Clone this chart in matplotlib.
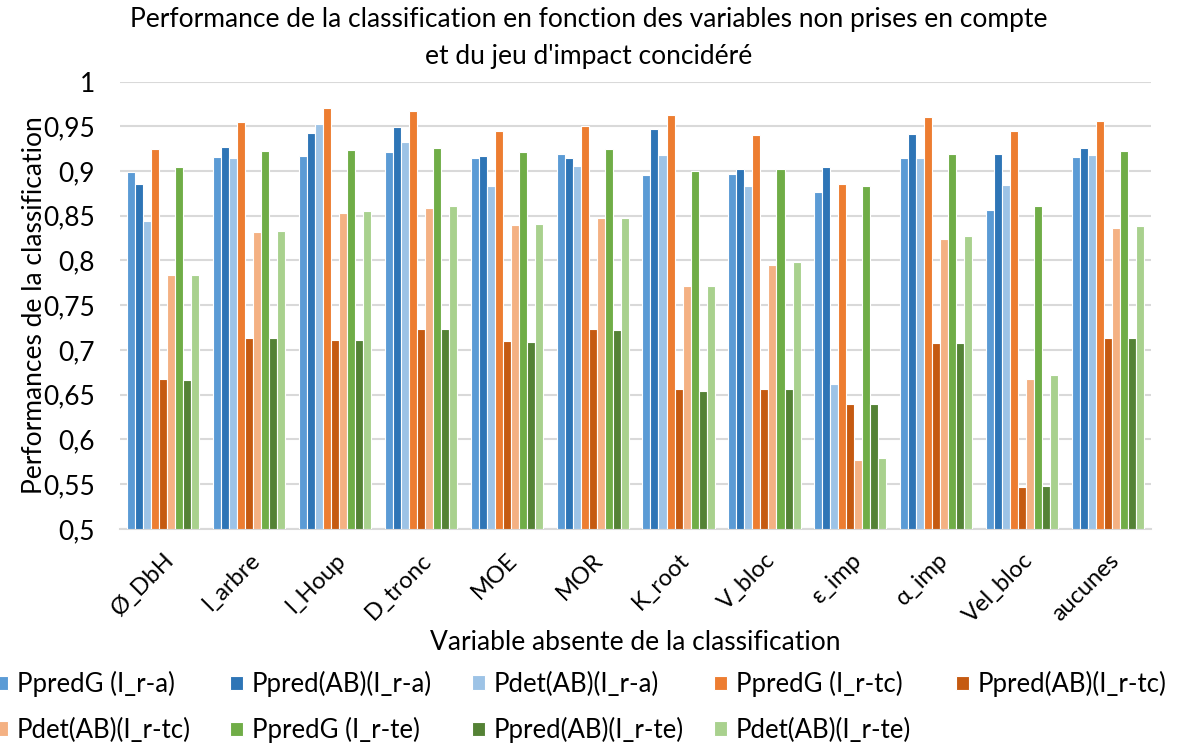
import numpy as np
import matplotlib.pyplot as plt

plt.rcParams['font.family'] = ['Lato', 'DejaVu Sans']

# Variable retirée de la classification
variables = ['Ø_DbH', 'l_arbre', 'l_Houp', 'D_tronc', 'MOE', 'MOR',
             'K_root', 'V_bloc', 'ε_imp', 'α_imp', 'Vel_bloc', 'aucunes']

# Séries (jeu d'impact I_r-a, I_r-tc, I_r-te)
ppredg_ra = [0.899, 0.916, 0.917, 0.921, 0.915, 0.919, 0.895, 0.897, 0.877, 0.914, 0.856, 0.916]
ppredab_ra = [0.886, 0.927, 0.942, 0.949, 0.917, 0.915, 0.947, 0.902, 0.904, 0.941, 0.919, 0.926]
pdetab_ra = [0.844, 0.914, 0.952, 0.932, 0.883, 0.906, 0.918, 0.883, 0.662, 0.914, 0.884, 0.918]
ppredg_rtc = [0.925, 0.955, 0.970, 0.967, 0.945, 0.950, 0.963, 0.940, 0.885, 0.960, 0.945, 0.956]
ppredab_rtc = [0.667, 0.713, 0.711, 0.723, 0.710, 0.723, 0.656, 0.656, 0.639, 0.708, 0.547, 0.713]
pdetab_rtc = [0.784, 0.832, 0.853, 0.859, 0.840, 0.848, 0.771, 0.795, 0.577, 0.824, 0.668, 0.836]
ppredg_rte = [0.905, 0.922, 0.923, 0.926, 0.921, 0.925, 0.900, 0.902, 0.883, 0.919, 0.861, 0.922]
ppredab_rte = [0.666, 0.713, 0.711, 0.723, 0.709, 0.722, 0.654, 0.656, 0.640, 0.708, 0.548, 0.713]
pdetab_rte = [0.784, 0.833, 0.855, 0.861, 0.841, 0.848, 0.771, 0.798, 0.579, 0.827, 0.672, 0.838]

series = [
    ('PpredG (I_r-a)', ppredg_ra, '#5B9BD5'),
    ('Ppred(AB)(I_r-a)', ppredab_ra, '#2E75B6'),
    ('Pdet(AB)(I_r-a)', pdetab_ra, '#9DC3E6'),
    ('PpredG (I_r-tc)', ppredg_rtc, '#ED7D31'),
    ('Ppred(AB)(I_r-tc)', ppredab_rtc, '#C55A11'),
    ('Pdet(AB)(I_r-tc)', pdetab_rtc, '#F4B183'),
    ('PpredG (I_r-te)', ppredg_rte, '#70AD47'),
    ('Ppred(AB)(I_r-te)', ppredab_rte, '#548235'),
    ('Pdet(AB)(I_r-te)', pdetab_rte, '#A9D18E'),
]

W, H = 1177, 748
fig = plt.figure(figsize=(W / 100, H / 100), dpi=100)
ax = fig.add_axes([0.102, 0.293, 0.876, 0.598])

x = np.arange(len(variables))
n = len(series)
w = 0.84 / n
handles = []
for i, (name, vals, col) in enumerate(series):
    b = ax.bar(x - 0.42 + w * (i + 0.5), np.array(vals) - 0.5, w, bottom=0.5,
               color=col, edgecolor='white', linewidth=0.8, label=name, zorder=3)
    handles.append(b)

ax.set_xlim(-0.5, len(variables) - 0.5)
ax.set_ylim(0.5, 1.0)
yt = np.arange(0.5, 1.001, 0.05)
ax.set_yticks(yt)
ax.set_yticklabels([f'{v:.2f}'.rstrip('0').rstrip('.').replace('.', ',') for v in yt])
ax.grid(axis='y', color='#D9D9D9', linewidth=1.5, zorder=0)
for s in ['top', 'right', 'left']:
    ax.spines[s].set_visible(False)
ax.spines['bottom'].set_color('#D9D9D9')
ax.spines['bottom'].set_linewidth(1.5)
ax.tick_params(axis='both', length=0, labelsize=19, colors='black')
ax.tick_params(axis='y', pad=18)
ax.set_xticks(x)
ax.set_xticklabels(variables, rotation=45, ha='right', rotation_mode='anchor',
                   fontsize=17)
ax.tick_params(axis='x', pad=15)

ax.set_ylabel('Performances de la classification', fontsize=19, labelpad=-3)
ax.set_xlabel('Variable absente de la classification', fontsize=19)
ax.xaxis.set_label_coords(0.5, -0.226)
fig.text(0.5, 1 - 7 / H,
         "Performance de la classification en fonction des variables non prises en compte\n"
         "et du jeu d'impact concidéré", fontsize=19, ha='center', va='top',
         linespacing=1.6)

# legende sur une grille fixe (5 colonnes, 2 lignes)
col_x = [-5, 230, 472, 714, 956]
row_y = [684, 730]
for k, (name, vals, col) in enumerate(series):
    r, c = divmod(k, 5)
    fig.legend([handles[k]], [name], loc='center left',
               bbox_to_anchor=(col_x[c] / W, 1 - row_y[r] / H),
               frameon=False, fontsize=18.5, handlelength=0.5, handleheight=0.5,
               handletextpad=0.35, borderpad=0, borderaxespad=0)

fig.savefig('out.png', dpi=100, facecolor='white')
